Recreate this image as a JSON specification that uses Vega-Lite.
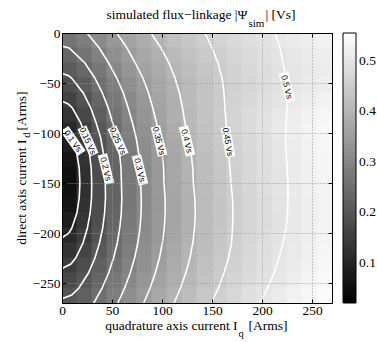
{
  "$schema": "https://vega.github.io/schema/vega-lite/v6.json",
  "width": 270,
  "height": 270,
  "autosize": "none",
  "padding": {"left": 62, "top": 33, "right": 45, "bottom": 39},
  "background": "white",
  "config": {"view": {"stroke": "#000", "strokeWidth": 1}},
  "datasets": {
    "grid": [
      {"q":7.5,"d":-7.5,"v":0.264},{"q":22.5,"d":-7.5,"v":0.284},{"q":37.5,"d":-7.5,"v":0.311},{"q":52.5,"d":-7.5,"v":0.337},{"q":67.5,"d":-7.5,"v":0.362},{"q":82.5,"d":-7.5,"v":0.384},{"q":97.5,"d":-7.5,"v":0.404},{"q":112.5,"d":-7.5,"v":0.422},{"q":127.5,"d":-7.5,"v":0.437},{"q":142.5,"d":-7.5,"v":0.452},{"q":157.5,"d":-7.5,"v":0.464},{"q":172.5,"d":-7.5,"v":0.476},{"q":187.5,"d":-7.5,"v":0.486},{"q":202.5,"d":-7.5,"v":0.495},{"q":217.5,"d":-7.5,"v":0.504},{"q":232.5,"d":-7.5,"v":0.512},{"q":247.5,"d":-7.5,"v":0.519},{"q":262.5,"d":-7.5,"v":0.526},
      {"q":7.5,"d":-22.5,"v":0.237},{"q":22.5,"d":-22.5,"v":0.261},{"q":37.5,"d":-22.5,"v":0.290},{"q":52.5,"d":-22.5,"v":0.320},{"q":67.5,"d":-22.5,"v":0.347},{"q":82.5,"d":-22.5,"v":0.371},{"q":97.5,"d":-22.5,"v":0.392},{"q":112.5,"d":-22.5,"v":0.411},{"q":127.5,"d":-22.5,"v":0.427},{"q":142.5,"d":-22.5,"v":0.442},{"q":157.5,"d":-22.5,"v":0.455},{"q":172.5,"d":-22.5,"v":0.467},{"q":187.5,"d":-22.5,"v":0.478},{"q":202.5,"d":-22.5,"v":0.488},{"q":217.5,"d":-22.5,"v":0.496},{"q":232.5,"d":-22.5,"v":0.505},{"q":247.5,"d":-22.5,"v":0.512},{"q":262.5,"d":-22.5,"v":0.519},
      {"q":7.5,"d":-37.5,"v":0.210},{"q":22.5,"d":-37.5,"v":0.237},{"q":37.5,"d":-37.5,"v":0.271},{"q":52.5,"d":-37.5,"v":0.303},{"q":67.5,"d":-37.5,"v":0.333},{"q":82.5,"d":-37.5,"v":0.359},{"q":97.5,"d":-37.5,"v":0.381},{"q":112.5,"d":-37.5,"v":0.401},{"q":127.5,"d":-37.5,"v":0.419},{"q":142.5,"d":-37.5,"v":0.435},{"q":157.5,"d":-37.5,"v":0.449},{"q":172.5,"d":-37.5,"v":0.462},{"q":187.5,"d":-37.5,"v":0.473},{"q":202.5,"d":-37.5,"v":0.483},{"q":217.5,"d":-37.5,"v":0.493},{"q":232.5,"d":-37.5,"v":0.501},{"q":247.5,"d":-37.5,"v":0.509},{"q":262.5,"d":-37.5,"v":0.516},
      {"q":7.5,"d":-52.5,"v":0.184},{"q":22.5,"d":-52.5,"v":0.214},{"q":37.5,"d":-52.5,"v":0.252},{"q":52.5,"d":-52.5,"v":0.287},{"q":67.5,"d":-52.5,"v":0.319},{"q":82.5,"d":-52.5,"v":0.347},{"q":97.5,"d":-52.5,"v":0.372},{"q":112.5,"d":-52.5,"v":0.394},{"q":127.5,"d":-52.5,"v":0.413},{"q":142.5,"d":-52.5,"v":0.430},{"q":157.5,"d":-52.5,"v":0.445},{"q":172.5,"d":-52.5,"v":0.459},{"q":187.5,"d":-52.5,"v":0.471},{"q":202.5,"d":-52.5,"v":0.482},{"q":217.5,"d":-52.5,"v":0.493},{"q":232.5,"d":-52.5,"v":0.502},{"q":247.5,"d":-52.5,"v":0.510},{"q":262.5,"d":-52.5,"v":0.518},
      {"q":7.5,"d":-67.5,"v":0.158},{"q":22.5,"d":-67.5,"v":0.192},{"q":37.5,"d":-67.5,"v":0.234},{"q":52.5,"d":-67.5,"v":0.273},{"q":67.5,"d":-67.5,"v":0.308},{"q":82.5,"d":-67.5,"v":0.339},{"q":97.5,"d":-67.5,"v":0.366},{"q":112.5,"d":-67.5,"v":0.389},{"q":127.5,"d":-67.5,"v":0.410},{"q":142.5,"d":-67.5,"v":0.429},{"q":157.5,"d":-67.5,"v":0.446},{"q":172.5,"d":-67.5,"v":0.461},{"q":187.5,"d":-67.5,"v":0.474},{"q":202.5,"d":-67.5,"v":0.487},{"q":217.5,"d":-67.5,"v":0.498},{"q":232.5,"d":-67.5,"v":0.508},{"q":247.5,"d":-67.5,"v":0.518},{"q":262.5,"d":-67.5,"v":0.527},
      {"q":7.5,"d":-82.5,"v":0.130},{"q":22.5,"d":-82.5,"v":0.172},{"q":37.5,"d":-82.5,"v":0.218},{"q":52.5,"d":-82.5,"v":0.261},{"q":67.5,"d":-82.5,"v":0.298},{"q":82.5,"d":-82.5,"v":0.332},{"q":97.5,"d":-82.5,"v":0.361},{"q":112.5,"d":-82.5,"v":0.387},{"q":127.5,"d":-82.5,"v":0.409},{"q":142.5,"d":-82.5,"v":0.430},{"q":157.5,"d":-82.5,"v":0.448},{"q":172.5,"d":-82.5,"v":0.465},{"q":187.5,"d":-82.5,"v":0.480},{"q":202.5,"d":-82.5,"v":0.493},{"q":217.5,"d":-82.5,"v":0.506},{"q":232.5,"d":-82.5,"v":0.517},{"q":247.5,"d":-82.5,"v":0.527},{"q":262.5,"d":-82.5,"v":0.537},
      {"q":7.5,"d":-97.5,"v":0.107},{"q":22.5,"d":-97.5,"v":0.153},{"q":37.5,"d":-97.5,"v":0.203},{"q":52.5,"d":-97.5,"v":0.249},{"q":67.5,"d":-97.5,"v":0.289},{"q":82.5,"d":-97.5,"v":0.324},{"q":97.5,"d":-97.5,"v":0.354},{"q":112.5,"d":-97.5,"v":0.382},{"q":127.5,"d":-97.5,"v":0.406},{"q":142.5,"d":-97.5,"v":0.427},{"q":157.5,"d":-97.5,"v":0.446},{"q":172.5,"d":-97.5,"v":0.464},{"q":187.5,"d":-97.5,"v":0.480},{"q":202.5,"d":-97.5,"v":0.494},{"q":217.5,"d":-97.5,"v":0.507},{"q":232.5,"d":-97.5,"v":0.519},{"q":247.5,"d":-97.5,"v":0.530},{"q":262.5,"d":-97.5,"v":0.541},
      {"q":7.5,"d":-112.5,"v":0.084},{"q":22.5,"d":-112.5,"v":0.137},{"q":37.5,"d":-112.5,"v":0.191},{"q":52.5,"d":-112.5,"v":0.239},{"q":67.5,"d":-112.5,"v":0.280},{"q":82.5,"d":-112.5,"v":0.316},{"q":97.5,"d":-112.5,"v":0.347},{"q":112.5,"d":-112.5,"v":0.375},{"q":127.5,"d":-112.5,"v":0.400},{"q":142.5,"d":-112.5,"v":0.422},{"q":157.5,"d":-112.5,"v":0.441},{"q":172.5,"d":-112.5,"v":0.459},{"q":187.5,"d":-112.5,"v":0.475},{"q":202.5,"d":-112.5,"v":0.490},{"q":217.5,"d":-112.5,"v":0.503},{"q":232.5,"d":-112.5,"v":0.515},{"q":247.5,"d":-112.5,"v":0.527},{"q":262.5,"d":-112.5,"v":0.537},
      {"q":7.5,"d":-127.5,"v":0.065},{"q":22.5,"d":-127.5,"v":0.126},{"q":37.5,"d":-127.5,"v":0.183},{"q":52.5,"d":-127.5,"v":0.233},{"q":67.5,"d":-127.5,"v":0.275},{"q":82.5,"d":-127.5,"v":0.311},{"q":97.5,"d":-127.5,"v":0.343},{"q":112.5,"d":-127.5,"v":0.371},{"q":127.5,"d":-127.5,"v":0.396},{"q":142.5,"d":-127.5,"v":0.418},{"q":157.5,"d":-127.5,"v":0.438},{"q":172.5,"d":-127.5,"v":0.456},{"q":187.5,"d":-127.5,"v":0.472},{"q":202.5,"d":-127.5,"v":0.487},{"q":217.5,"d":-127.5,"v":0.500},{"q":232.5,"d":-127.5,"v":0.513},{"q":247.5,"d":-127.5,"v":0.524},{"q":262.5,"d":-127.5,"v":0.535},
      {"q":7.5,"d":-142.5,"v":0.053},{"q":22.5,"d":-142.5,"v":0.121},{"q":37.5,"d":-142.5,"v":0.180},{"q":52.5,"d":-142.5,"v":0.230},{"q":67.5,"d":-142.5,"v":0.273},{"q":82.5,"d":-142.5,"v":0.309},{"q":97.5,"d":-142.5,"v":0.341},{"q":112.5,"d":-142.5,"v":0.370},{"q":127.5,"d":-142.5,"v":0.394},{"q":142.5,"d":-142.5,"v":0.417},{"q":157.5,"d":-142.5,"v":0.436},{"q":172.5,"d":-142.5,"v":0.454},{"q":187.5,"d":-142.5,"v":0.471},{"q":202.5,"d":-142.5,"v":0.485},{"q":217.5,"d":-142.5,"v":0.499},{"q":232.5,"d":-142.5,"v":0.511},{"q":247.5,"d":-142.5,"v":0.523},{"q":262.5,"d":-142.5,"v":0.533},
      {"q":7.5,"d":-157.5,"v":0.055},{"q":22.5,"d":-157.5,"v":0.121},{"q":37.5,"d":-157.5,"v":0.179},{"q":52.5,"d":-157.5,"v":0.229},{"q":67.5,"d":-157.5,"v":0.271},{"q":82.5,"d":-157.5,"v":0.308},{"q":97.5,"d":-157.5,"v":0.340},{"q":112.5,"d":-157.5,"v":0.368},{"q":127.5,"d":-157.5,"v":0.393},{"q":142.5,"d":-157.5,"v":0.415},{"q":157.5,"d":-157.5,"v":0.435},{"q":172.5,"d":-157.5,"v":0.453},{"q":187.5,"d":-157.5,"v":0.469},{"q":202.5,"d":-157.5,"v":0.484},{"q":217.5,"d":-157.5,"v":0.498},{"q":232.5,"d":-157.5,"v":0.510},{"q":247.5,"d":-157.5,"v":0.521},{"q":262.5,"d":-157.5,"v":0.532},
      {"q":7.5,"d":-172.5,"v":0.066},{"q":22.5,"d":-172.5,"v":0.125},{"q":37.5,"d":-172.5,"v":0.181},{"q":52.5,"d":-172.5,"v":0.229},{"q":67.5,"d":-172.5,"v":0.271},{"q":82.5,"d":-172.5,"v":0.307},{"q":97.5,"d":-172.5,"v":0.339},{"q":112.5,"d":-172.5,"v":0.367},{"q":127.5,"d":-172.5,"v":0.391},{"q":142.5,"d":-172.5,"v":0.413},{"q":157.5,"d":-172.5,"v":0.433},{"q":172.5,"d":-172.5,"v":0.451},{"q":187.5,"d":-172.5,"v":0.467},{"q":202.5,"d":-172.5,"v":0.482},{"q":217.5,"d":-172.5,"v":0.496},{"q":232.5,"d":-172.5,"v":0.508},{"q":247.5,"d":-172.5,"v":0.520},{"q":262.5,"d":-172.5,"v":0.530},
      {"q":7.5,"d":-187.5,"v":0.084},{"q":22.5,"d":-187.5,"v":0.134},{"q":37.5,"d":-187.5,"v":0.186},{"q":52.5,"d":-187.5,"v":0.233},{"q":67.5,"d":-187.5,"v":0.273},{"q":82.5,"d":-187.5,"v":0.309},{"q":97.5,"d":-187.5,"v":0.340},{"q":112.5,"d":-187.5,"v":0.367},{"q":127.5,"d":-187.5,"v":0.392},{"q":142.5,"d":-187.5,"v":0.414},{"q":157.5,"d":-187.5,"v":0.433},{"q":172.5,"d":-187.5,"v":0.451},{"q":187.5,"d":-187.5,"v":0.467},{"q":202.5,"d":-187.5,"v":0.482},{"q":217.5,"d":-187.5,"v":0.495},{"q":232.5,"d":-187.5,"v":0.508},{"q":247.5,"d":-187.5,"v":0.519},{"q":262.5,"d":-187.5,"v":0.530},
      {"q":7.5,"d":-202.5,"v":0.105},{"q":22.5,"d":-202.5,"v":0.147},{"q":37.5,"d":-202.5,"v":0.195},{"q":52.5,"d":-202.5,"v":0.239},{"q":67.5,"d":-202.5,"v":0.278},{"q":82.5,"d":-202.5,"v":0.312},{"q":97.5,"d":-202.5,"v":0.342},{"q":112.5,"d":-202.5,"v":0.369},{"q":127.5,"d":-202.5,"v":0.393},{"q":142.5,"d":-202.5,"v":0.415},{"q":157.5,"d":-202.5,"v":0.435},{"q":172.5,"d":-202.5,"v":0.452},{"q":187.5,"d":-202.5,"v":0.468},{"q":202.5,"d":-202.5,"v":0.483},{"q":217.5,"d":-202.5,"v":0.496},{"q":232.5,"d":-202.5,"v":0.509},{"q":247.5,"d":-202.5,"v":0.520},{"q":262.5,"d":-202.5,"v":0.531},
      {"q":7.5,"d":-217.5,"v":0.127},{"q":22.5,"d":-217.5,"v":0.163},{"q":37.5,"d":-217.5,"v":0.206},{"q":52.5,"d":-217.5,"v":0.247},{"q":67.5,"d":-217.5,"v":0.284},{"q":82.5,"d":-217.5,"v":0.318},{"q":97.5,"d":-217.5,"v":0.347},{"q":112.5,"d":-217.5,"v":0.374},{"q":127.5,"d":-217.5,"v":0.397},{"q":142.5,"d":-217.5,"v":0.418},{"q":157.5,"d":-217.5,"v":0.438},{"q":172.5,"d":-217.5,"v":0.455},{"q":187.5,"d":-217.5,"v":0.471},{"q":202.5,"d":-217.5,"v":0.485},{"q":217.5,"d":-217.5,"v":0.499},{"q":232.5,"d":-217.5,"v":0.511},{"q":247.5,"d":-217.5,"v":0.522},{"q":262.5,"d":-217.5,"v":0.533},
      {"q":7.5,"d":-232.5,"v":0.150},{"q":22.5,"d":-232.5,"v":0.181},{"q":37.5,"d":-232.5,"v":0.220},{"q":52.5,"d":-232.5,"v":0.258},{"q":67.5,"d":-232.5,"v":0.293},{"q":82.5,"d":-232.5,"v":0.325},{"q":97.5,"d":-232.5,"v":0.354},{"q":112.5,"d":-232.5,"v":0.379},{"q":127.5,"d":-232.5,"v":0.402},{"q":142.5,"d":-232.5,"v":0.423},{"q":157.5,"d":-232.5,"v":0.442},{"q":172.5,"d":-232.5,"v":0.459},{"q":187.5,"d":-232.5,"v":0.475},{"q":202.5,"d":-232.5,"v":0.489},{"q":217.5,"d":-232.5,"v":0.502},{"q":232.5,"d":-232.5,"v":0.514},{"q":247.5,"d":-232.5,"v":0.526},{"q":262.5,"d":-232.5,"v":0.536},
      {"q":7.5,"d":-247.5,"v":0.174},{"q":22.5,"d":-247.5,"v":0.200},{"q":37.5,"d":-247.5,"v":0.235},{"q":52.5,"d":-247.5,"v":0.271},{"q":67.5,"d":-247.5,"v":0.304},{"q":82.5,"d":-247.5,"v":0.335},{"q":97.5,"d":-247.5,"v":0.362},{"q":112.5,"d":-247.5,"v":0.387},{"q":127.5,"d":-247.5,"v":0.409},{"q":142.5,"d":-247.5,"v":0.429},{"q":157.5,"d":-247.5,"v":0.448},{"q":172.5,"d":-247.5,"v":0.465},{"q":187.5,"d":-247.5,"v":0.480},{"q":202.5,"d":-247.5,"v":0.494},{"q":217.5,"d":-247.5,"v":0.507},{"q":232.5,"d":-247.5,"v":0.519},{"q":247.5,"d":-247.5,"v":0.530},{"q":262.5,"d":-247.5,"v":0.541},
      {"q":7.5,"d":-262.5,"v":0.199},{"q":22.5,"d":-262.5,"v":0.221},{"q":37.5,"d":-262.5,"v":0.253},{"q":52.5,"d":-262.5,"v":0.285},{"q":67.5,"d":-262.5,"v":0.317},{"q":82.5,"d":-262.5,"v":0.345},{"q":97.5,"d":-262.5,"v":0.372},{"q":112.5,"d":-262.5,"v":0.396},{"q":127.5,"d":-262.5,"v":0.417},{"q":142.5,"d":-262.5,"v":0.437},{"q":157.5,"d":-262.5,"v":0.455},{"q":172.5,"d":-262.5,"v":0.472},{"q":187.5,"d":-262.5,"v":0.487},{"q":202.5,"d":-262.5,"v":0.500},{"q":217.5,"d":-262.5,"v":0.513},{"q":232.5,"d":-262.5,"v":0.525},{"q":247.5,"d":-262.5,"v":0.536},{"q":262.5,"d":-262.5,"v":0.546}
    ],
    "iso": [
      {"L":0.1,"q":0,"d":-96.2},{"L":0.1,"q":6.2,"d":-100},{"L":0.1,"q":9.4,"d":-105},{"L":0.1,"q":14.7,"d":-120},{"L":0.1,"q":17.2,"d":-135},{"L":0.1,"q":17.9,"d":-150},{"L":0.1,"q":17.2,"d":-165},{"L":0.1,"q":14.9,"d":-180},{"L":0.1,"q":9.9,"d":-195},{"L":0.1,"q":7.0,"d":-200},{"L":0.1,"q":0,"d":-204.8},
      {"L":0.15,"q":0,"d":-68.1},{"L":0.15,"q":6.2,"d":-71},{"L":0.15,"q":10.4,"d":-75},{"L":0.15,"q":18.8,"d":-90},{"L":0.15,"q":24.2,"d":-105},{"L":0.15,"q":27.4,"d":-120},{"L":0.15,"q":29.2,"d":-135},{"L":0.15,"q":29.7,"d":-150},{"L":0.15,"q":29.5,"d":-165},{"L":0.15,"q":28.2,"d":-180},{"L":0.15,"q":25.4,"d":-195},{"L":0.15,"q":21,"d":-210},{"L":0.15,"q":13.7,"d":-225},{"L":0.15,"q":8.9,"d":-231},{"L":0.15,"q":0,"d":-235.5},
      {"L":0.2,"q":0,"d":-40.5},{"L":0.2,"q":6.2,"d":-42.5},{"L":0.2,"q":9.6,"d":-45},{"L":0.2,"q":21.3,"d":-60},{"L":0.2,"q":28.8,"d":-75},{"L":0.2,"q":34.2,"d":-90},{"L":0.2,"q":38.7,"d":-105},{"L":0.2,"q":41.4,"d":-120},{"L":0.2,"q":42.9,"d":-135},{"L":0.2,"q":43.3,"d":-150},{"L":0.2,"q":43.5,"d":-165},{"L":0.2,"q":42.6,"d":-180},{"L":0.2,"q":40.7,"d":-195},{"L":0.2,"q":37.5,"d":-210},{"L":0.2,"q":32.9,"d":-225},{"L":0.2,"q":26.5,"d":-240},{"L":0.2,"q":16.9,"d":-255},{"L":0.2,"q":9.8,"d":-262},{"L":0.2,"q":0,"d":-265.7},
      {"L":0.25,"q":0,"d":-13.1},{"L":0.25,"q":7.1,"d":-15},{"L":0.25,"q":22.9,"d":-30},{"L":0.25,"q":32.8,"d":-45},{"L":0.25,"q":40.4,"d":-60},{"L":0.25,"q":46.3,"d":-75},{"L":0.25,"q":50.7,"d":-90},{"L":0.25,"q":55,"d":-105},{"L":0.25,"q":57.5,"d":-120},{"L":0.25,"q":59,"d":-135},{"L":0.25,"q":59.4,"d":-150},{"L":0.25,"q":59.8,"d":-165},{"L":0.25,"q":59.3,"d":-180},{"L":0.25,"q":57.8,"d":-195},{"L":0.25,"q":55.3,"d":-210},{"L":0.25,"q":51.6,"d":-225},{"L":0.25,"q":46.6,"d":-240},{"L":0.25,"q":40.2,"d":-255},{"L":0.25,"q":31.8,"d":-270},
      {"L":0.3,"q":25,"d":0},{"L":0.3,"q":37.3,"d":-15},{"L":0.3,"q":46.6,"d":-30},{"L":0.3,"q":54.8,"d":-45},{"L":0.3,"q":61.3,"d":-60},{"L":0.3,"q":66.2,"d":-75},{"L":0.3,"q":70.5,"d":-90},{"L":0.3,"q":74.2,"d":-105},{"L":0.3,"q":76.7,"d":-120},{"L":0.3,"q":78.1,"d":-135},{"L":0.3,"q":78.6,"d":-150},{"L":0.3,"q":79.3,"d":-165},{"L":0.3,"q":79.1,"d":-180},{"L":0.3,"q":78,"d":-195},{"L":0.3,"q":75.8,"d":-210},{"L":0.3,"q":72.6,"d":-225},{"L":0.3,"q":68.2,"d":-240},{"L":0.3,"q":62.7,"d":-255},{"L":0.3,"q":55.8,"d":-270},
      {"L":0.35,"q":54.8,"d":0},{"L":0.35,"q":65,"d":-15},{"L":0.35,"q":73.3,"d":-30},{"L":0.35,"q":80.9,"d":-45},{"L":0.35,"q":86.6,"d":-60},{"L":0.35,"q":90.8,"d":-75},{"L":0.35,"q":94.5,"d":-90},{"L":0.35,"q":97.4,"d":-105},{"L":0.35,"q":100,"d":-120},{"L":0.35,"q":101.6,"d":-135},{"L":0.35,"q":102,"d":-150},{"L":0.35,"q":103.1,"d":-165},{"L":0.35,"q":103.2,"d":-180},{"L":0.35,"q":102.3,"d":-195},{"L":0.35,"q":100.4,"d":-210},{"L":0.35,"q":97.4,"d":-225},{"L":0.35,"q":93.3,"d":-240},{"L":0.35,"q":88.1,"d":-255},{"L":0.35,"q":81.7,"d":-270},
      {"L":0.4,"q":89,"d":0},{"L":0.4,"q":99,"d":-15},{"L":0.4,"q":107,"d":-30},{"L":0.4,"q":113,"d":-45},{"L":0.4,"q":117.5,"d":-60},{"L":0.4,"q":120.5,"d":-75},{"L":0.4,"q":123,"d":-90},{"L":0.4,"q":126,"d":-105},{"L":0.4,"q":129,"d":-120},{"L":0.4,"q":130.8,"d":-135},{"L":0.4,"q":131.3,"d":-150},{"L":0.4,"q":132.8,"d":-165},{"L":0.4,"q":133.3,"d":-180},{"L":0.4,"q":132.6,"d":-195},{"L":0.4,"q":130.8,"d":-210},{"L":0.4,"q":127.9,"d":-225},{"L":0.4,"q":123.8,"d":-240},{"L":0.4,"q":118.5,"d":-255},{"L":0.4,"q":112.1,"d":-270},
      {"L":0.45,"q":143,"d":0},{"L":0.45,"q":150,"d":-15},{"L":0.45,"q":156,"d":-30},{"L":0.45,"q":160,"d":-45},{"L":0.45,"q":162,"d":-60},{"L":0.45,"q":163,"d":-75},{"L":0.45,"q":164,"d":-90},{"L":0.45,"q":165,"d":-105},{"L":0.45,"q":166.5,"d":-120},{"L":0.45,"q":168,"d":-135},{"L":0.45,"q":169,"d":-150},{"L":0.45,"q":170.5,"d":-165},{"L":0.45,"q":171,"d":-180},{"L":0.45,"q":170.5,"d":-195},{"L":0.45,"q":169.5,"d":-210},{"L":0.45,"q":166.5,"d":-225},{"L":0.45,"q":162,"d":-240},{"L":0.45,"q":156.4,"d":-255},{"L":0.45,"q":149.6,"d":-270},
      {"L":0.5,"q":213,"d":0},{"L":0.5,"q":218,"d":-15},{"L":0.5,"q":221,"d":-30},{"L":0.5,"q":224,"d":-45},{"L":0.5,"q":225,"d":-60},{"L":0.5,"q":225,"d":-75},{"L":0.5,"q":224,"d":-90},{"L":0.5,"q":223.5,"d":-105},{"L":0.5,"q":224,"d":-120},{"L":0.5,"q":225,"d":-135},{"L":0.5,"q":226,"d":-150},{"L":0.5,"q":226,"d":-165},{"L":0.5,"q":225.5,"d":-180},{"L":0.5,"q":224,"d":-195},{"L":0.5,"q":221,"d":-210},{"L":0.5,"q":217,"d":-225},{"L":0.5,"q":212,"d":-240},{"L":0.5,"q":205.7,"d":-255},{"L":0.5,"q":198,"d":-270}
    ],
    "lab": [
      {"t":"0.1 Vs","q":11,"d":-108},
      {"t":"0.15 Vs","q":26,"d":-108},
      {"t":"0.2 Vs","q":44,"d":-136},
      {"t":"0.25 Vs","q":56,"d":-108},
      {"t":"0.3 Vs","q":78,"d":-137},
      {"t":"0.35 Vs","q":97,"d":-108},
      {"t":"0.4 Vs","q":125,"d":-108},
      {"t":"0.45 Vs","q":166,"d":-109},
      {"t":"0.5 Vs","q":225,"d":-54}
    ]
  },
  "resolve": {"axis": {"x": "independent", "y": "independent"}},
  "layer": [
    {
      "data": {"name": "grid"},
      "mark": {"type": "square", "size": 256, "opacity": 1, "strokeWidth": 0, "clip": true},
      "encoding": {
        "x": {"field": "q", "type": "quantitative",
          "scale": {"domain": [0, 270], "nice": false, "zero": false},
          "axis": {"orient": "bottom", "values": [0, 50, 100, 150, 200, 250], "grid": true, "gridDash": [1, 2], "gridColor": "#9a9a9a", "gridOpacity": 1,
            "ticks": true, "tickSize": -4, "tickColor": "#000", "domain": true, "domainColor": "#000",
            "labelFont": "Liberation Serif", "labelFontSize": 13.5, "labelColor": "#000", "labelPadding": 4, "labelFlush": false,
            "title": "quadrature axis current I", "titleFont": "Liberation Serif", "titleFontSize": 13.5, "titleFontWeight": "normal", "titleColor": "#000",
            "titleX": 175, "titleY": 26, "titleAlign": "right", "titleBaseline": "alphabetic", "zindex": 1}},
        "y": {"field": "d", "type": "quantitative",
          "scale": {"domain": [-270, 0], "nice": false, "zero": false},
          "axis": {"orient": "left", "values": [0, -50, -100, -150, -200, -250], "grid": true, "gridDash": [1, 2], "gridColor": "#9a9a9a", "gridOpacity": 1,
            "ticks": true, "tickSize": -4, "tickColor": "#000", "domain": true, "domainColor": "#000",
            "labelFont": "Liberation Serif", "labelFontSize": 13.5, "labelColor": "#000", "labelPadding": 6, "labelFlush": false,
            "title": "direct axis current I", "titleFont": "Liberation Serif", "titleFontSize": 13.5, "titleFontWeight": "normal", "titleColor": "#000",
            "titleX": -37, "titleY": 106, "titleAngle": 270, "titleAlign": "right", "titleBaseline": "alphabetic", "zindex": 1}},
        "color": {"field": "v", "type": "quantitative",
          "scale": {"domain": [0.02, 0.555], "range": ["#000000", "#ffffff"], "interpolate": "rgb", "clamp": true},
          "legend": {"orient": "none", "legendX": 281, "legendY": 0, "direction": "vertical", "title": null, "padding": 0,
            "gradientLength": 270, "gradientThickness": 13, "gradientStrokeColor": "#000", "gradientStrokeWidth": 1,
            "values": [0.1, 0.2, 0.3, 0.4, 0.5], "labelFont": "Liberation Serif", "labelFontSize": 13.5, "labelColor": "#000", "labelOffset": 3}}
      }
    },
    {
      "data": {"name": "iso"},
      "mark": {"type": "line", "color": "#ffffff", "strokeWidth": 1.6, "clip": true},
      "encoding": {
        "x": {"field": "q", "type": "quantitative",
          "axis": {"orient": "top", "values": [0, 50, 100, 150, 200, 250], "grid": false, "labels": false, "ticks": true, "tickSize": -4, "tickColor": "#000", "domain": true, "domainColor": "#000",
            "title": "simulated flux−linkage |Ψ", "titleFont": "Liberation Serif", "titleFontSize": 13.5, "titleFontWeight": "normal", "titleColor": "#000",
            "titleX": 185, "titleY": -15, "titleAlign": "right", "titleBaseline": "alphabetic", "zindex": 1}},
        "y": {"field": "d", "type": "quantitative",
          "axis": {"orient": "right", "values": [0, -50, -100, -150, -200, -250], "grid": false, "labels": false, "ticks": true, "tickSize": -4, "tickColor": "#000", "domain": true, "domainColor": "#000", "title": null, "zindex": 1}},
        "detail": {"field": "L", "type": "nominal"},
        "order": {"field": "d", "type": "quantitative"}
      }
    },
    {
      "data": {"name": "lab"},
      "transform": [{"filter": {"field": "t", "oneOf": ["0.1 Vs"]}}],
      "mark": {"type": "point", "shape": "M-1,-0.32H1V0.32H-1Z", "size": 900, "filled": true, "fill": "#ffffff", "opacity": 1, "strokeWidth": 0, "angle": 55},
      "encoding": {
        "x": {"field": "q", "type": "quantitative",
          "axis": {"orient": "bottom", "domain": false, "ticks": false, "labels": false, "grid": false,
            "title": "q", "titleFont": "Liberation Serif", "titleFontSize": 10.5, "titleFontWeight": "normal", "titleColor": "#000",
            "titleX": 176, "titleY": 33, "titleAlign": "left", "titleBaseline": "alphabetic"}},
        "y": {"field": "d", "type": "quantitative",
          "axis": {"orient": "left", "domain": false, "ticks": false, "labels": false, "grid": false,
            "title": "d", "titleFont": "Liberation Serif", "titleFontSize": 10.5, "titleFontWeight": "normal", "titleColor": "#000",
            "titleX": -33, "titleY": 101.5, "titleAngle": 270, "titleAlign": "center", "titleBaseline": "alphabetic"}}
      }
    },
    {
      "data": {"name": "lab"},
      "transform": [{"filter": {"field": "t", "oneOf": ["0.1 Vs"]}}],
      "mark": {"type": "text", "angle": 55, "font": "Liberation Sans", "fontSize": 8.5, "color": "#000", "align": "center", "baseline": "middle"},
      "encoding": {
        "x": {"field": "q", "type": "quantitative",
          "axis": {"orient": "bottom", "domain": false, "ticks": false, "labels": false, "grid": false,
            "title": "[Arms]", "titleFont": "Liberation Serif", "titleFontSize": 13.5, "titleFontWeight": "normal", "titleColor": "#000",
            "titleX": 186, "titleY": 26, "titleAlign": "left", "titleBaseline": "alphabetic"}},
        "y": {"field": "d", "type": "quantitative",
          "axis": {"orient": "left", "domain": false, "ticks": false, "labels": false, "grid": false,
            "title": "[Arms]", "titleFont": "Liberation Serif", "titleFontSize": 13.5, "titleFontWeight": "normal", "titleColor": "#000",
            "titleX": -37, "titleY": 97, "titleAngle": 270, "titleAlign": "left", "titleBaseline": "alphabetic"}},
        "text": {"field": "t"}
      }
    },
    {
      "data": {"name": "lab"},
      "transform": [{"filter": {"field": "t", "oneOf": ["0.15 Vs", "0.25 Vs"]}}],
      "mark": {"type": "point", "shape": "M-1,-0.32H1V0.32H-1Z", "size": 900, "filled": true, "fill": "#ffffff", "opacity": 1, "strokeWidth": 0, "angle": 66},
      "encoding": {
        "x": {"field": "q", "type": "quantitative",
          "axis": {"orient": "top", "domain": false, "ticks": false, "labels": false, "grid": false,
            "title": "sim", "titleFont": "Liberation Serif", "titleFontSize": 11, "titleFontWeight": "normal", "titleColor": "#000",
            "titleX": 186, "titleY": -7, "titleAlign": "left", "titleBaseline": "alphabetic"}},
        "y": {"field": "d", "type": "quantitative", "axis": null}
      }
    },
    {
      "data": {"name": "lab"},
      "transform": [{"filter": {"field": "t", "oneOf": ["0.15 Vs", "0.25 Vs"]}}],
      "mark": {"type": "text", "angle": 66, "font": "Liberation Sans", "fontSize": 8.5, "color": "#000", "align": "center", "baseline": "middle"},
      "encoding": {
        "x": {"field": "q", "type": "quantitative",
          "axis": {"orient": "top", "domain": false, "ticks": false, "labels": false, "grid": false,
            "title": "| [Vs]", "titleFont": "Liberation Serif", "titleFontSize": 13.5, "titleFontWeight": "normal", "titleColor": "#000",
            "titleX": 203, "titleY": -15, "titleAlign": "left", "titleBaseline": "alphabetic"}},
        "y": {"field": "d", "type": "quantitative", "axis": null},
        "text": {"field": "t"}
      }
    },
    {
      "data": {"name": "lab"},
      "transform": [{"filter": {"field": "t", "oneOf": ["0.2 Vs", "0.3 Vs", "0.35 Vs", "0.4 Vs", "0.5 Vs"]}}],
      "mark": {"type": "point", "shape": "M-1,-0.32H1V0.32H-1Z", "size": 900, "filled": true, "fill": "#ffffff", "opacity": 1, "strokeWidth": 0, "angle": 76},
      "encoding": {
        "x": {"field": "q", "type": "quantitative", "axis": null},
        "y": {"field": "d", "type": "quantitative", "axis": null}
      }
    },
    {
      "data": {"name": "lab"},
      "transform": [{"filter": {"field": "t", "oneOf": ["0.2 Vs", "0.3 Vs", "0.35 Vs", "0.4 Vs", "0.5 Vs"]}}],
      "mark": {"type": "text", "angle": 76, "font": "Liberation Sans", "fontSize": 8.5, "color": "#000", "align": "center", "baseline": "middle"},
      "encoding": {
        "x": {"field": "q", "type": "quantitative", "axis": null},
        "y": {"field": "d", "type": "quantitative", "axis": null},
        "text": {"field": "t"}
      }
    },
    {
      "data": {"name": "lab"},
      "transform": [{"filter": {"field": "t", "oneOf": ["0.45 Vs"]}}],
      "mark": {"type": "point", "shape": "M-1,-0.32H1V0.32H-1Z", "size": 900, "filled": true, "fill": "#ffffff", "opacity": 1, "strokeWidth": 0, "angle": 80},
      "encoding": {
        "x": {"field": "q", "type": "quantitative", "axis": null},
        "y": {"field": "d", "type": "quantitative", "axis": null}
      }
    },
    {
      "data": {"name": "lab"},
      "transform": [{"filter": {"field": "t", "oneOf": ["0.45 Vs"]}}],
      "mark": {"type": "text", "angle": 80, "font": "Liberation Sans", "fontSize": 8.5, "color": "#000", "align": "center", "baseline": "middle"},
      "encoding": {
        "x": {"field": "q", "type": "quantitative", "axis": null},
        "y": {"field": "d", "type": "quantitative", "axis": null},
        "text": {"field": "t"}
      }
    }
  ]
}
